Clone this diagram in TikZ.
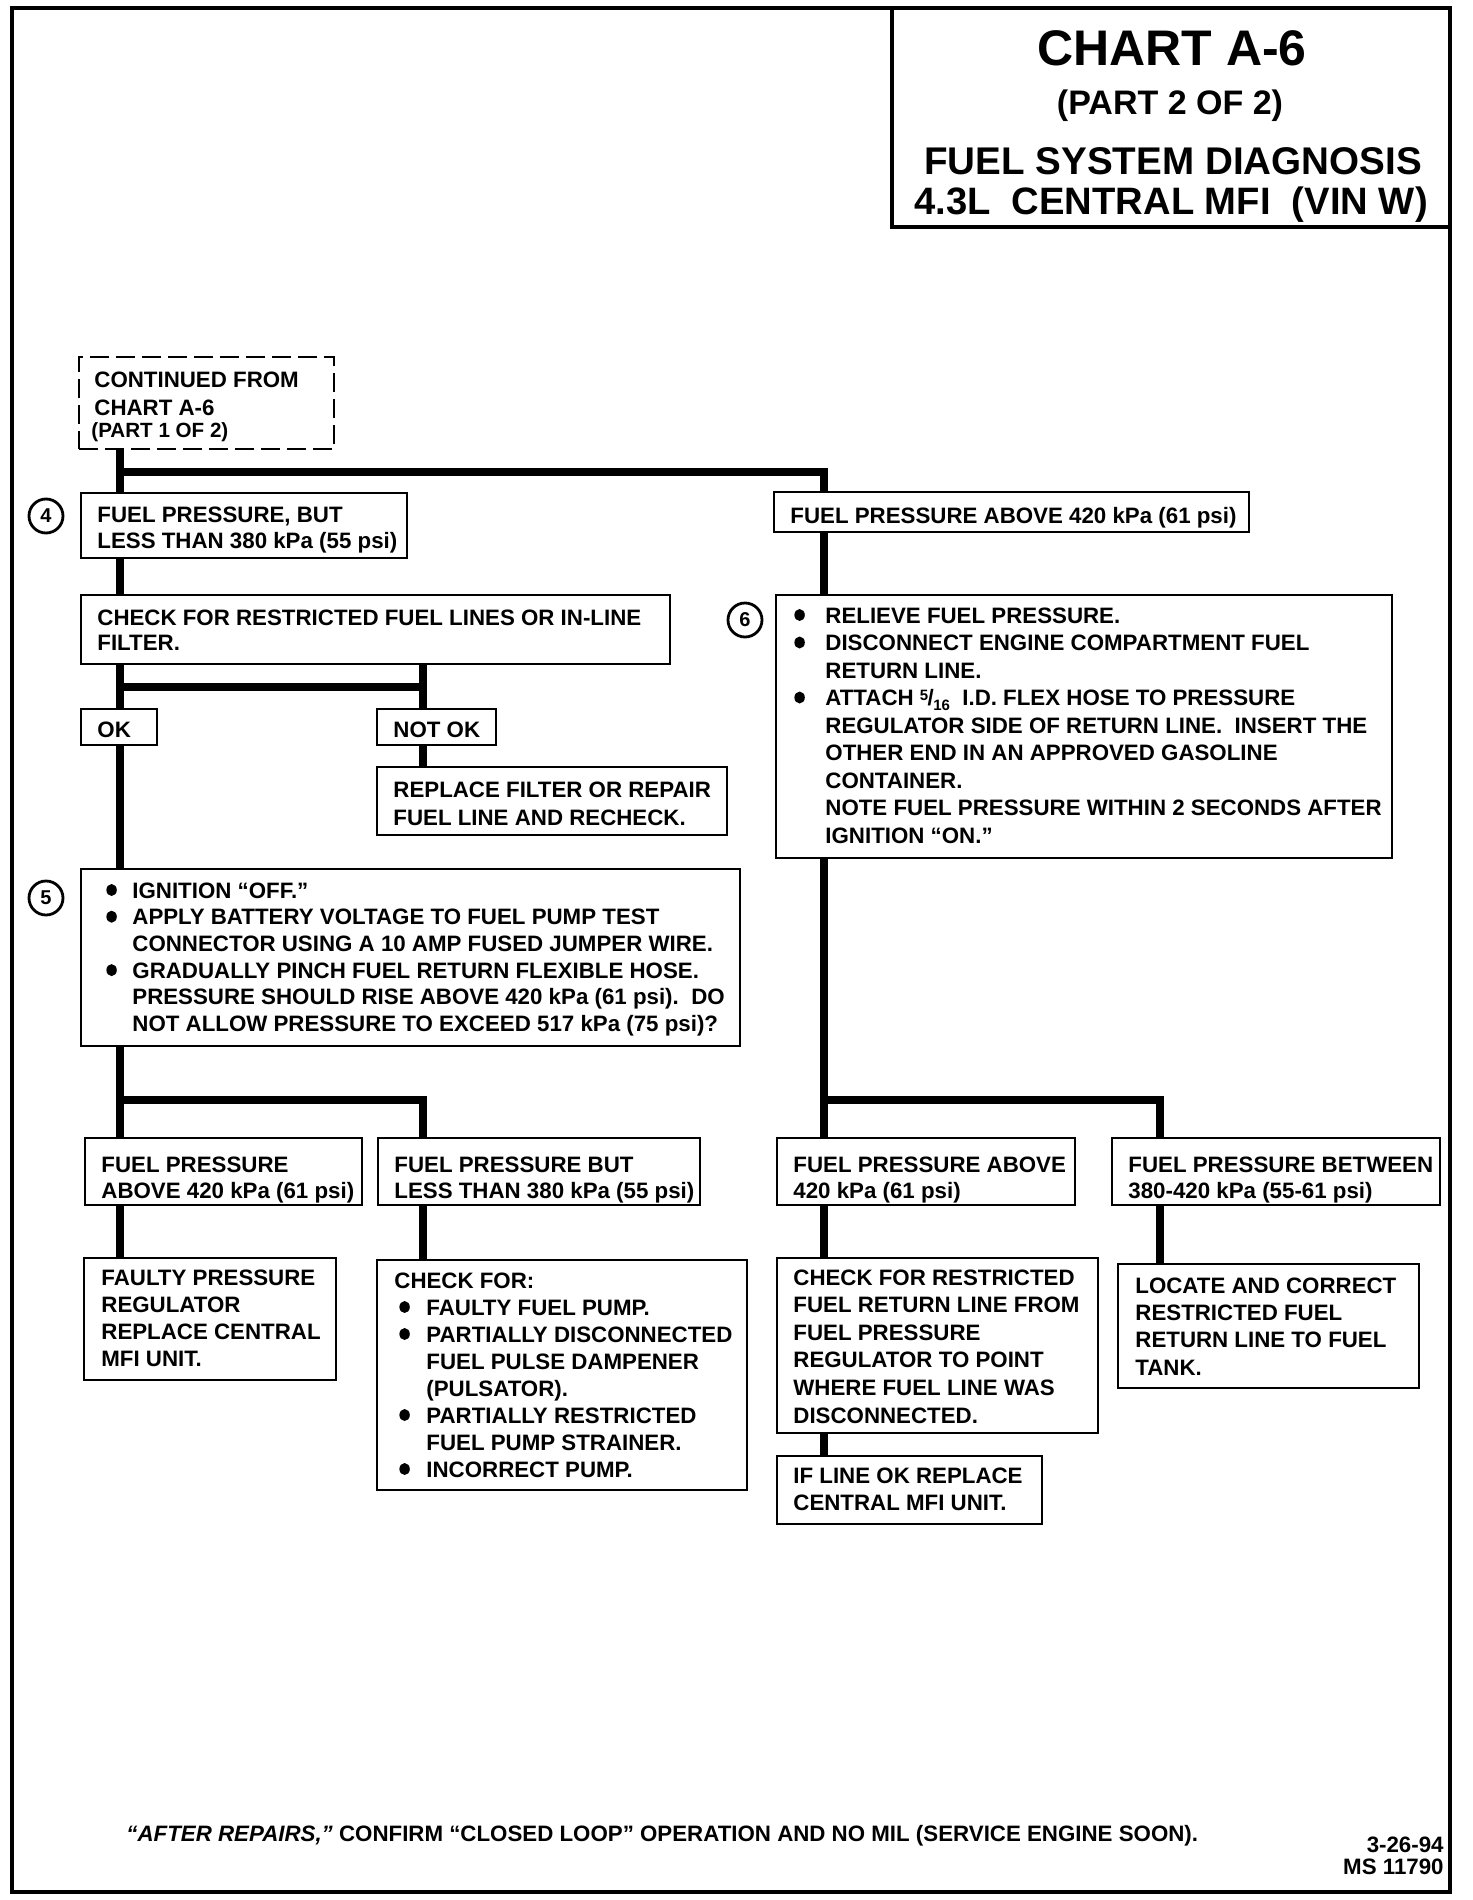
\documentclass[tikz,border=0pt]{standalone}
\usepackage{fontspec}
\setmainfont{Liberation Sans}
\usetikzlibrary{fit}
\newcommand\bul[1]{\makebox[#1][l]{\tikz[baseline=0pt,x=1pt,y=1pt]\fill (2.6,4) ellipse [x radius=2.6, y radius=3];}}
\newcommand\fr{{\raisebox{0.45ex}{\fontsize{7.5pt}{8pt}\selectfont 5}\kern-0.3pt/\kern-0.3pt\raisebox{-0.4ex}{\fontsize{7.5pt}{8pt}\selectfont 16}}}
\begin{document}
\begin{tikzpicture}[x=0.5pt,y=-0.5pt,
  bxs/.style={draw, line width=1.4pt, inner sep=0pt, rectangle},
  dsh/.style={draw, line width=1.4pt, inner sep=0pt, rectangle, dash pattern=on 9.5pt off 3.5pt},
  frm/.style={draw, line width=2pt, inner sep=0pt, rectangle},
  cn/.style={line width=3.7pt, line join=miter},
  txt/.style={anchor=base west, inner sep=0pt},
  tf/.style={font=\fontsize{11.15pt}{#1}\selectfont\bfseries},
  tf/.default=13.5pt,
  num/.style={draw, circle, line width=1.4pt, minimum size=17pt, inner sep=0pt, font=\fontsize{10pt}{12pt}\selectfont\bfseries},
  ttl/.style={anchor=base, inner sep=0pt},
]
\useasboundingbox (0,0) rectangle (1472,1900);

% frame and title
\node[frm, fit={(12,8) (1450,1892)}] (frame) {};
\node[frm, fit={(892,8) (1450,227)}] (title) {};
\node[ttl, font=\fontsize{25pt}{30pt}\selectfont\bfseries] (t1) at (1172,66) {CHART A-6};
\node[ttl, font=\fontsize{17pt}{20pt}\selectfont\bfseries] (t2) at (1170,114) {(PART 2 OF 2)};
\node[ttl, font=\fontsize{19.3pt}{22pt}\selectfont\bfseries] (t3) at (1173,175) {FUEL SYSTEM DIAGNOSIS};
\node[ttl, font=\fontsize{19.1pt}{22pt}\selectfont\bfseries] (t4) at (1171,214) {4.3L\ \ CENTRAL MFI\ \ (VIN W)};

% boxes
\node[dsh, fit={(79,357) (334,449)}] (cont) {};
\node[bxs, fit={(81,493) (407,558)}] (b4) {};
\node[bxs, fit={(774,492) (1249,532)}] (abv) {};
\node[bxs, fit={(81,595) (670,664)}] (chk) {};
\node[bxs, fit={(81,709) (157,745)}] (ok) {};
\node[bxs, fit={(377,709) (496,745)}] (nok) {};
\node[bxs, fit={(377,767) (727,835)}] (rep) {};
\node[bxs, fit={(81,869) (740,1046)}] (b5) {};
\node[bxs, fit={(776,595) (1392,858)}] (b6) {};
\node[bxs, fit={(85,1138) (362,1205)}] (r1) {};
\node[bxs, fit={(378,1138) (700,1205)}] (r2) {};
\node[bxs, fit={(777,1138) (1075,1205)}] (r3) {};
\node[bxs, fit={(1112,1138) (1440,1205)}] (r4) {};
\node[bxs, fit={(84,1258) (336,1380)}] (fau) {};
\node[bxs, fit={(377,1260) (747,1490)}] (cf) {};
\node[bxs, fit={(777,1258) (1098,1433)}] (crl) {};
\node[bxs, fit={(777,1456) (1042,1524)}] (ifl) {};
\node[bxs, fit={(1118,1264) (1419,1388)}] (loc) {};

% numbered circles
\node[num] (n4) at (46,516) {4};
\node[num] (n5) at (46,898) {5};
\node[num] (n6) at (745,620) {6};

% connectors
\coordinate (tx) at (120,0);
\coordinate (mx) at (423,0);
\coordinate (rx) at (824,0);
\coordinate (fx) at (1160,0);
\coordinate (j1) at (120,472);
\coordinate (j1r) at (824,472);
\coordinate (j2) at (120,687);
\coordinate (j2r) at (423,687);
\coordinate (j3) at (120,1100);
\coordinate (j3r) at (423,1100);
\coordinate (j4) at (824,1100);
\coordinate (j4r) at (1160,1100);

\draw[cn] (cont.south -| tx) -- (b4.north -| tx);
\draw[cn] (j1) -- (j1r) -- (abv.north -| rx);
\draw[cn] (b4.south -| tx) -- (chk.north -| tx);
\draw[cn] (chk.south -| tx) -- (ok.north -| tx);
\draw[cn] (chk.south -| mx) -- (nok.north -| mx);
\draw[cn] (j2) -- (j2r);
\draw[cn] (nok.south -| mx) -- (rep.north -| mx);
\draw[cn] (ok.south -| tx) -- (b5.north -| tx);
\draw[cn] (b5.south -| tx) -- (r1.north -| tx);
\draw[cn] (j3) -- (j3r) -- (r2.north -| mx);
\draw[cn] (r1.south -| tx) -- (fau.north -| tx);
\draw[cn] (r2.south -| mx) -- (cf.north -| mx);
\draw[cn] (abv.south -| rx) -- (b6.north -| rx);
\draw[cn] (b6.south -| rx) -- (r3.north -| rx);
\draw[cn] (j4) -- (j4r) -- (r4.north -| fx);
\draw[cn] (r3.south -| rx) -- (crl.north -| rx);
\draw[cn] (crl.south -| rx) -- (ifl.north -| rx);
\draw[cn] (r4.south -| fx) -- (loc.north -| fx);

% texts
\node[txt, tf=14pt] (contt) at (94,387) {\begin{tabular}[t]{@{}l@{}}CONTINUED FROM\\CHART A-6\end{tabular}};
\node[txt, font=\fontsize{10.3pt}{12pt}\selectfont\bfseries] (contp) at (91,437) {(PART 1 OF 2)};

\node[txt, tf=13pt] (b4t) at (97,522) {\begin{tabular}[t]{@{}l@{}}FUEL PRESSURE, BUT\\LESS THAN 380 kPa (55 psi)\end{tabular}};
\node[txt, tf] (abvt) at (790,523) {FUEL PRESSURE ABOVE 420 kPa (61 psi)};
\node[txt, tf=12.6pt] (chkt) at (97,625) {\begin{tabular}[t]{@{}l@{}}CHECK FOR RESTRICTED FUEL LINES OR IN-LINE\\FILTER.\end{tabular}};
\node[txt, tf] (okt) at (97,737) {OK};
\node[txt, tf] (nokt) at (393,737) {NOT OK};
\node[txt, tf=14pt] (rept) at (393,797) {\begin{tabular}[t]{@{}l@{}}REPLACE FILTER OR REPAIR\\FUEL LINE AND RECHECK.\end{tabular}};

\node[txt, tf=13.35pt] (b5t) at (106,898) {\begin{tabular}[t]{@{}l@{}l@{}}
\bul{13pt} & IGNITION “OFF.”\\
\bul{13pt} & APPLY BATTERY VOLTAGE TO FUEL PUMP TEST\\
 & CONNECTOR USING A 10 AMP FUSED JUMPER WIRE.\\
\bul{13pt} & GRADUALLY PINCH FUEL RETURN FLEXIBLE HOSE.\\
 & PRESSURE SHOULD RISE ABOVE 420 kPa (61 psi).\ \ DO\\
 & NOT ALLOW PRESSURE TO EXCEED 517 kPa (75 psi)?
\end{tabular}};

\node[txt, tf=13.75pt] (b6t) at (794,623) {\begin{tabular}[t]{@{}l@{}l@{}}
\bul{15.5pt} & RELIEVE FUEL PRESSURE.\\
\bul{15.5pt} & DISCONNECT ENGINE COMPARTMENT FUEL\\
 & RETURN LINE.\\
\bul{15.5pt} & ATTACH \fr\ \ I.D. FLEX HOSE TO PRESSURE\\
 & REGULATOR SIDE OF RETURN LINE.\ \ INSERT THE\\
 & OTHER END IN AN APPROVED GASOLINE\\
 & CONTAINER.\\
 & NOTE FUEL PRESSURE WITHIN 2 SECONDS AFTER\\
 & IGNITION “ON.”
\end{tabular}};

\node[txt, tf=13pt] (r1t) at (101,1172) {\begin{tabular}[t]{@{}l@{}}FUEL PRESSURE\\ABOVE 420 kPa (61 psi)\end{tabular}};
\node[txt, tf=13pt] (r2t) at (394,1172) {\begin{tabular}[t]{@{}l@{}}FUEL PRESSURE BUT\\LESS THAN 380 kPa (55 psi)\end{tabular}};
\node[txt, tf=13pt] (r3t) at (793,1172) {\begin{tabular}[t]{@{}l@{}}FUEL PRESSURE ABOVE\\420 kPa (61 psi)\end{tabular}};
\node[txt, tf=13pt] (r4t) at (1128,1172) {\begin{tabular}[t]{@{}l@{}}FUEL PRESSURE BETWEEN\\380-420 kPa (55-61 psi)\end{tabular}};

\node[txt, tf=13.65pt] (faut) at (101,1285) {\begin{tabular}[t]{@{}l@{}}FAULTY PRESSURE\\REGULATOR\\REPLACE CENTRAL\\MFI UNIT.\end{tabular}};

\node[txt, tf=13.5pt] (cft) at (394,1288) {\begin{tabular}[t]{@{}l@{}l@{}}
\multicolumn{2}{@{}l@{}}{CHECK FOR:}\\
\hspace*{2.5pt}\bul{13.5pt} & FAULTY FUEL PUMP.\\
\hspace*{2.5pt}\bul{13.5pt} & PARTIALLY DISCONNECTED\\
 & FUEL PULSE DAMPENER\\
 & (PULSATOR).\\
\hspace*{2.5pt}\bul{13.5pt} & PARTIALLY RESTRICTED\\
 & FUEL PUMP STRAINER.\\
\hspace*{2.5pt}\bul{13.5pt} & INCORRECT PUMP.
\end{tabular}};

\node[txt, tf=13.8pt] (crlt) at (793,1285) {\begin{tabular}[t]{@{}l@{}}CHECK FOR RESTRICTED\\FUEL RETURN LINE FROM\\FUEL PRESSURE\\REGULATOR TO POINT\\WHERE FUEL LINE WAS\\DISCONNECTED.\end{tabular}};
\node[txt, tf=13.5pt] (iflt) at (793,1483) {\begin{tabular}[t]{@{}l@{}}IF LINE OK REPLACE\\CENTRAL MFI UNIT.\end{tabular}};
\node[txt, tf=13.7pt] (loct) at (1135,1293) {\begin{tabular}[t]{@{}l@{}}LOCATE AND CORRECT\\RESTRICTED FUEL\\RETURN LINE TO FUEL\\TANK.\end{tabular}};

% footer
\node[txt, tf] (foot) at (126,1841) {\textit{“AFTER REPAIRS,”} CONFIRM “CLOSED LOOP” OPERATION AND NO MIL (SERVICE ENGINE SOON).};
\node[txt, tf, anchor=base east] (date) at (1444,1852) {3-26-94};
\node[txt, tf, anchor=base east] (ms) at (1444,1874) {MS 11790};
\end{tikzpicture}
\end{document}
